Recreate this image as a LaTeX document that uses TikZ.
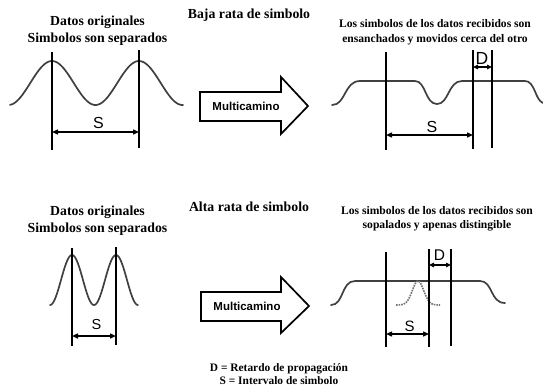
\documentclass[tikz,border=0pt]{standalone}
\usepackage{fontspec}
\setmainfont{Liberation Serif}
\newfontfamily\arialfont{Liberation Sans}
\usetikzlibrary{arrows.meta}
\begin{document}
\begin{tikzpicture}[x=1pt,y=-1pt,
  wave/.style={draw=black!75, line width=1.7pt, line cap=round},
  dotwave/.style={draw=black!55, line width=1.6pt, densely dotted},
  vline/.style={draw=black, line width=1.8pt},
  dimS/.style={line width=1.4pt, {Triangle[length=6pt,width=5pt]}-{Triangle[length=6pt,width=5pt]}},
  dimD/.style={line width=1.4pt, {Triangle[length=5pt,width=4.5pt]}-{Triangle[length=5pt,width=4.5pt]}},
  bigtitle/.style={font=\bfseries\fontsize{13.8}{17}\selectfont, align=center, inner sep=0pt},
  midtitle/.style={font=\bfseries\fontsize{13.8}{17}\selectfont, inner sep=0pt},
  smalltitle/.style={font=\bfseries\fontsize{11.6}{15}\selectfont, align=center, inner sep=0pt},
  legend/.style={font=\bfseries\fontsize{11.4}{12.5}\selectfont, align=center, inner sep=0pt},
  letter/.style={font=\arialfont\fontsize{16}{16}\selectfont, inner sep=0pt},
  bigarrow/.style={draw=black, line width=1.7pt, fill=white, line join=miter},
  arrowtext/.style={font=\arialfont\bfseries\fontsize{11.5}{12}\selectfont, inner sep=0pt}
]
\useasboundingbox (0,0) rectangle (543,389);

% ---------------- Titles ----------------
\node[bigtitle] (t1) at (97.5,31) {Datos originales\\Simbolos son separados};
\node[midtitle] (t2) at (249,15) {Baja rata de simbolo};
\node[smalltitle] (t3) at (435,32.5) {Los simbolos de los datos recibidos son\\ensanchados y movidos cerca del otro};
\node[bigtitle] (t4) at (97.5,221) {Datos originales\\Simbolos son separados};
\node[midtitle] (t5) at (249,207) {Alta rata de simbolo};
\node[smalltitle, font=\bfseries\fontsize{11.6}{13.5}\selectfont] (t6) at (437,218.5) {Los simbolos de los datos recibidos son\\sopalados y apenas distingible};
\node[legend] (leg) at (279,374) {D = Retardo de propagación\\S = Intervalo de simbolo};

% ---------------- Top left ----------------
\draw[wave] plot[domain=10:183, samples=120] (\x, {83 - 22*cos((\x-52)/87*360)});
\coordinate (a1t) at (52,52);  \coordinate (a1b) at (52,150);
\coordinate (a2t) at (139,50); \coordinate (a2b) at (139,148);
\draw[vline] (a1t) -- (a1b);
\draw[vline] (a2t) -- (a2b);
\coordinate (sa1) at (52,132); \coordinate (sa2) at (139,132);
\draw[dimS] (sa1) -- (sa2);
\node[letter] (Sa) at (98.5,122.5) {S};

% ---------------- Top arrow ----------------
\draw[bigarrow] (200,92) -- (281,92) -- (281,77) -- (308,106) -- (281,134) -- (281,121) -- (200,121) -- cycle;
\node[arrowtext] (m1) at (246,106) {Multicamino};

% ---------------- Top right ----------------
\draw[wave] (332,105) .. controls (346,105) and (344,81) .. (360,81) -- (415,81)
  .. controls (426,81) and (425,104) .. (437,104) .. controls (449,104) and (448,81) .. (462,81)
  -- (525,81) .. controls (535,81) and (535,100) .. (543,103);
\coordinate (b1t) at (386,52);  \coordinate (b1b) at (386,150);
\coordinate (b2t) at (473,50);  \coordinate (b2b) at (473,149);
\coordinate (b3t) at (492,50);  \coordinate (b3b) at (492,148);
\draw[vline] (b1t) -- (b1b);
\draw[vline] (b2t) -- (b2b);
\draw[vline] (b3t) -- (b3b);
\coordinate (sb1) at (386,135); \coordinate (sb2) at (473,135);
\draw[dimS] (sb1) -- (sb2);
\coordinate (db1) at (473,67); \coordinate (db2) at (492,67);
\draw[dimD] (db1) -- (db2);
\node[letter] (Sb) at (432,126.5) {S};
\node[letter, font=\arialfont\fontsize{17.5}{17}\selectfont] (Db) at (482,58.5) {D};

% ---------------- Bottom left ----------------
\draw[wave] plot[domain=50:138, samples=120] (\x, {280 - 25*cos((\x-72)/44*360)});
\coordinate (c1t) at (72,248);  \coordinate (c1b) at (72,346);
\coordinate (c2t) at (116,247); \coordinate (c2b) at (116,345);
\draw[vline] (c1t) -- (c1b);
\draw[vline] (c2t) -- (c2b);
\coordinate (sc1) at (72,336); \coordinate (sc2) at (116,336);
\draw[dimS] (sc1) -- (sc2);
\node[letter, font=\arialfont\fontsize{14.5}{15}\selectfont] (Sc) at (96.5,325) {S};

% ---------------- Bottom arrow ----------------
\draw[bigarrow] (201,292) -- (281,292) -- (281,277) -- (309,306) -- (281,333) -- (281,321) -- (201,321) -- cycle;
\node[arrowtext] (m2) at (247,306) {Multicamino};

% ---------------- Bottom right ----------------
\draw[wave] (331,305) .. controls (344,305) and (341,281) .. (355,281) -- (480,281)
  .. controls (493,281) and (490,303) .. (505,303);
\draw[dotwave] plot[domain=396:440, samples=60] (\x, {305 - 24*exp(-((\x-418)/8)^2)});
\coordinate (d1t) at (386,252);  \coordinate (d1b) at (386,347);
\coordinate (d2t) at (429,249);  \coordinate (d2b) at (429,347);
\coordinate (d3t) at (451,249);  \coordinate (d3b) at (451,346);
\draw[vline] (d1t) -- (d1b);
\draw[vline] (d2t) -- (d2b);
\draw[vline] (d3t) -- (d3b);
\coordinate (sd1) at (386,334); \coordinate (sd2) at (429,334);
\draw[dimS] (sd1) -- (sd2);
\coordinate (dd1) at (429,265); \coordinate (dd2) at (451,265);
\draw[dimD] (dd1) -- (dd2);
\node[letter, font=\arialfont\fontsize{15}{15}\selectfont] (Sd) at (409.5,326.5) {S};
\node[letter, font=\arialfont\fontsize{15.5}{15}\selectfont] (Dd) at (439.5,255) {D};
\end{tikzpicture}
\end{document}
